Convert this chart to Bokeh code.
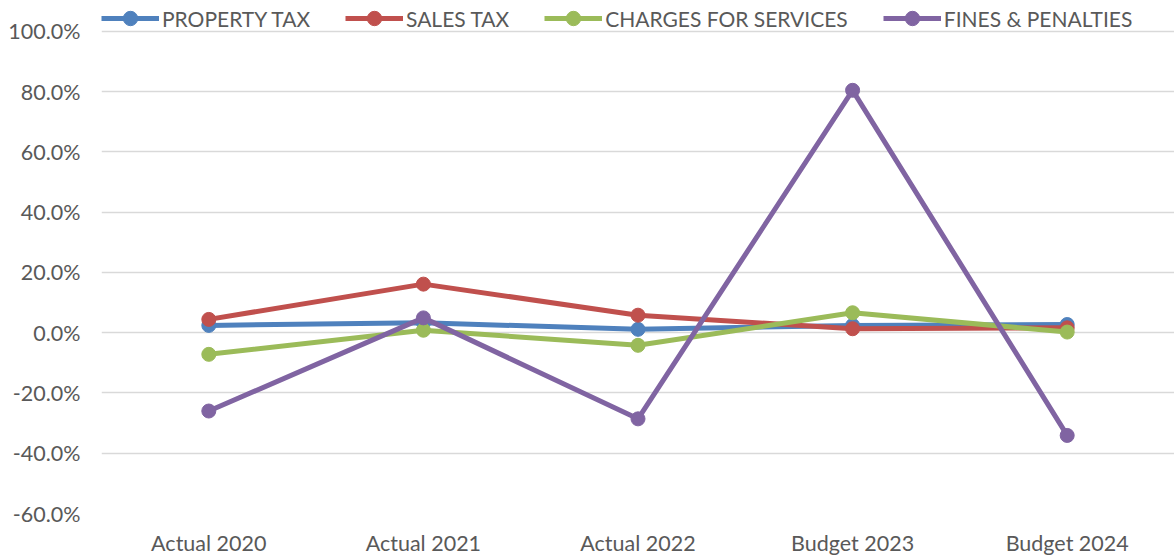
from bokeh.plotting import figure
from bokeh.models import FixedTicker, PrintfTickFormatter, Legend, LegendItem, FactorRange, Range1d
from bokeh.embed import file_html
from bokeh.resources import INLINE

years = ["Actual 2020", "Actual 2021", "Actual 2022", "Budget 2023", "Budget 2024"]
property_tax = [2.4, 3.3, 1.1, 2.4, 2.7]
sales_tax = [4.4, 16.1, 5.8, 1.3, 1.6]
charges = [-7.2, 0.8, -4.2, 6.6, 0.2]
fines = [-26.0, 4.9, -28.6, 80.4, -34.1]
y_ticks = [-60, -40, -20, 0, 20, 40, 60, 80, 100]

series = [
    ("PROPERTY TAX", property_tax, "#4F81BD"),
    ("SALES TAX", sales_tax, "#C0504D"),
    ("CHARGES FOR SERVICES", charges, "#9BBB59"),
    ("FINES & PENALTIES", fines, "#8064A2"),
]

FONT = "Lato"
# y range top leaves headroom above the 100% gridline for the legend
p = figure(width=1174, height=558, x_range=FactorRange(*years), y_range=Range1d(-60, 110.2),
           output_backend="svg", toolbar_location=None,
           min_border_left=101, min_border_right=0, min_border_top=0, min_border_bottom=43)
p.outline_line_color = None

items = []
for name, vals, col in series:
    r1 = p.line(years, vals, line_color=col, line_width=5)
    r2 = p.scatter(years, vals, size=14, fill_color=col, line_color=col)
    items.append(LegendItem(label=name, renderers=[r1, r2]))

legend = Legend(items=items, orientation="horizontal", location="top_left",
                label_text_font=FONT, label_text_font_size="21px", label_text_color="#595959",
                glyph_width=58, glyph_height=36, label_standoff=3, spacing=35,
                padding=0, margin=0, border_line_color=None, background_fill_alpha=0,
                label_height=36)
p.add_layout(legend, "center")

p.yaxis.ticker = FixedTicker(ticks=y_ticks)
p.yaxis.formatter = PrintfTickFormatter(format="%.1f%%")
p.ygrid.ticker = FixedTicker(ticks=y_ticks)
p.ygrid.grid_line_color = "#D9D9D9"
p.ygrid.grid_line_width = 1.5
p.xgrid.grid_line_color = None

for ax in (p.xaxis, p.yaxis):
    ax.axis_line_color = None
    ax.major_tick_line_color = None
    ax.minor_tick_line_color = None
    ax.major_tick_out = 0
    ax.major_tick_in = 0
    ax.major_label_text_font = FONT
    ax.major_label_text_font_size = "21.5px"
    ax.major_label_text_color = "#595959"
p.xaxis.major_label_standoff = 16
p.yaxis.major_label_standoff = 21

open("out.html", "w").write(file_html(p, INLINE))
